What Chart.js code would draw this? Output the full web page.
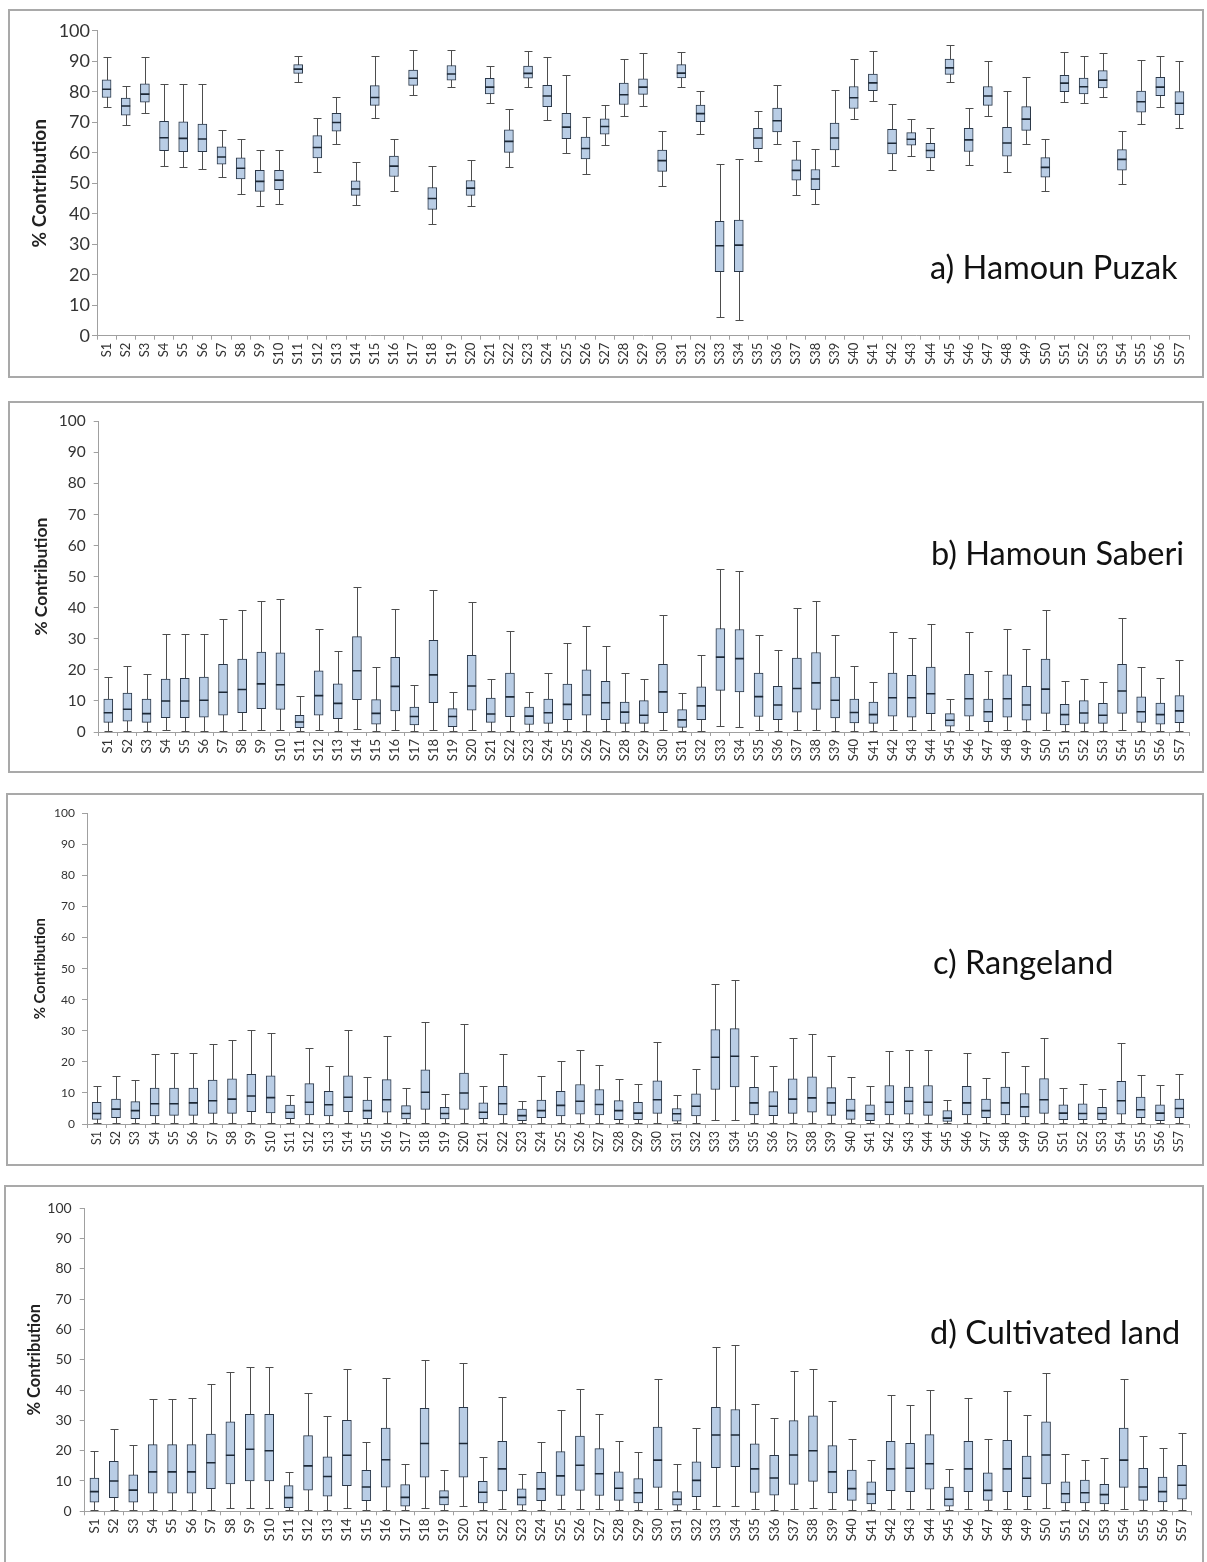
<!DOCTYPE html>
<html>
<head>
<meta charset="utf-8">
<script src="https://cdn.jsdelivr.net/npm/chart.js@4.4.1/dist/chart.umd.min.js"></script>
<style>
  body { margin: 0; width: 1207px; height: 1562px; overflow: hidden; background: #fff; font-family: Lato, "Open Sans", sans-serif; }
  .frame { position: absolute; border: 2px solid #a9a9a9; box-sizing: border-box; pointer-events: none; }
  .plot { position: absolute; }
  .tag { position: absolute; font-family: Lato, sans-serif; font-size: 32.5px; line-height: 1; color: #111; white-space: nowrap; }
</style>
</head>
<body>
<div class="plot" id="wa"><canvas id="ca"></canvas></div>
<div class="plot" id="wb"><canvas id="cb"></canvas></div>
<div class="plot" id="wc"><canvas id="cc"></canvas></div>
<div class="plot" id="wd"><canvas id="cd"></canvas></div>
<div class="frame" id="fa"></div>
<div class="frame" id="fb"></div>
<div class="frame" id="fc"></div>
<div class="frame" id="fd"></div>
<div class="tag" style="left:930px;top:251px">a) Hamoun Puzak</div>
<div class="tag" style="left:931px;top:537px">b) Hamoun Saberi</div>
<div class="tag" style="left:933px;top:946px">c) Rangeland</div>
<div class="tag" style="left:930px;top:1316px">d) Cultivated land</div>

<script>
// sites S1..S57
const sites = Array.from({length: 57}, (_, i) => 'S' + (i + 1));
const yMin = 0, yMax = 100, yStep = 10;

// a) Hamoun Puzak
const puzakMin = [74.9,69.1,73.0,55.6,55.3,54.6,52.0,46.6,42.4,43.3,83.3,53.7,62.8,42.9,71.3,47.5,79.0,36.6,81.5,42.6,76.4,55.3,81.7,70.8,59.9,52.9,62.5,72.1,75.4,49.0,81.7,66.2,6.0,5.0,57.2,62.8,46.2,43.3,55.7,70.9,76.9,54.3,58.9,54.4,83.3,56.1,72.0,53.7,63.0,47.5,76.6,76.3,78.3,49.9,69.5,75.1,68.0];
const puzakQ1 = [78.1,72.3,76.6,60.7,60.3,60.3,56.2,51.4,47.3,47.9,86.0,58.3,67.1,46.0,75.5,52.2,82.1,41.4,83.8,46.0,79.3,60.1,84.4,75.1,64.6,58.0,66.1,75.8,79.1,53.9,84.5,70.2,21.0,21.0,61.3,66.8,51.0,47.9,60.9,74.5,80.3,59.6,62.5,58.3,85.7,60.4,75.5,58.9,67.3,52.0,80.0,79.3,81.2,54.3,73.3,78.7,72.5];
const puzakMed = [80.8,75.3,79.2,64.9,64.7,64.5,58.6,54.9,50.6,51.0,87.4,61.7,69.9,48.1,78.1,55.6,84.4,45.0,85.8,48.4,81.5,63.7,86.0,78.6,68.4,61.4,68.6,79.0,81.5,57.4,86.1,72.8,29.5,29.7,64.8,70.5,54.2,51.4,64.8,78.0,82.9,63.1,64.4,60.7,87.8,64.2,78.6,63.2,71.0,55.2,82.8,81.6,83.8,57.8,76.7,81.5,76.2];
const puzakQ3 = [83.9,77.9,82.6,70.3,70.1,69.4,61.9,58.3,54.2,54.2,88.9,65.6,72.9,50.8,82.0,58.9,87.1,48.6,88.6,50.9,84.4,67.5,88.4,82.1,72.9,65.1,71.1,82.8,84.2,60.9,88.9,75.6,37.5,37.9,68.0,74.6,57.7,54.5,69.7,81.7,85.8,67.7,66.6,63.1,90.7,68.0,81.7,68.3,75.1,58.4,85.4,84.5,86.9,61.0,80.2,84.7,80.0];
const puzakMax = [91.4,81.9,91.4,82.4,82.4,82.6,67.3,64.6,60.8,60.8,91.7,71.3,78.3,56.8,91.7,64.6,93.6,55.5,93.8,57.7,88.3,74.3,93.4,91.4,85.4,71.6,75.7,90.8,92.7,67.2,93.1,80.3,56.3,58.0,73.7,82.1,63.7,61.2,80.7,90.7,93.2,76.1,70.9,68.1,95.3,74.6,90.1,80.1,84.8,64.4,92.9,91.8,92.7,67.0,90.3,91.8,90.1];

// b) Hamoun Saberi
const saberiMin = [0.4,0.4,0.4,0.6,0.4,0.4,0.4,0.6,0.6,0.6,0.2,0.6,0.4,1.1,0.4,0.6,0.4,0.8,0.4,0.5,0.4,0.4,0.4,0.4,0.4,0.4,0.4,0.4,0.4,0.6,0.2,0.4,1.9,1.6,0.6,0.4,0.6,0.6,0.4,0.4,0.4,0.6,0.6,0.6,0.4,0.6,0.4,0.6,0.4,0.6,0.4,0.4,0.4,0.6,0.4,0.4,0.4];
const saberiQ1 = [3.1,3.5,3.1,4.6,4.6,4.8,5.4,6.2,7.5,7.3,1.4,5.4,4.3,10.4,2.5,6.8,2.3,9.4,1.7,7.0,3.1,4.9,2.4,2.8,4.0,5.4,4.0,2.8,2.8,6.2,1.5,4.0,13.4,12.9,5.0,4.0,6.4,7.3,4.5,2.9,2.8,5.1,4.8,5.9,1.9,5.1,3.3,4.8,3.8,6.0,2.3,2.8,2.8,6.0,3.1,2.5,3.0];
const saberiMed = [6.2,7.3,5.9,10.0,10.0,10.2,12.8,13.7,15.5,15.2,3.2,11.7,9.2,19.7,6.0,14.7,5.0,18.4,5.0,14.8,5.8,11.3,5.1,6.2,8.9,11.9,9.4,6.4,5.4,12.9,3.9,8.4,24.1,23.6,11.4,8.7,14.0,15.8,10.2,6.3,5.6,11.0,11.0,12.3,3.8,10.7,6.5,10.7,8.7,13.8,5.6,6.1,5.4,13.2,6.5,5.6,6.8];
const saberiQ3 = [10.6,12.5,10.6,17.0,17.3,17.7,21.8,23.5,25.7,25.5,5.4,19.7,15.5,30.7,10.4,24.0,8.0,29.5,7.5,24.7,10.9,19.0,8.0,10.6,15.4,20.0,16.3,9.6,10.1,21.8,7.2,14.5,33.3,33.0,19.0,14.7,23.8,25.6,17.7,10.6,9.6,19.0,18.2,20.9,5.9,18.6,10.6,18.4,14.7,23.5,8.9,10.1,9.2,21.8,11.3,9.3,11.7];
const saberiMax = [17.7,21.1,18.6,31.7,31.7,31.7,36.3,39.4,42.2,42.9,11.7,33.3,26.2,46.6,21.0,39.7,15.0,45.8,12.8,41.8,17.0,32.6,13.0,19.0,28.7,34.2,27.8,19.0,17.0,37.8,12.5,24.9,52.4,51.7,31.2,26.4,40.0,42.1,31.2,21.3,16.1,32.3,30.1,34.6,10.6,32.3,19.6,33.3,26.7,39.2,16.3,17.0,16.1,36.8,20.9,17.4,23.3];

// c) Rangeland
const rangeMin = [0.2,0.2,0.2,0.2,0.2,0.2,0.2,0.2,0.3,0.3,0.2,0.2,0.3,0.3,0.2,0.3,0.2,0.4,0.2,0.4,0.2,0.2,0.2,0.2,0.2,0.2,0.2,0.2,0.2,0.2,0.2,0.2,1.2,1.2,0.3,0.2,0.3,0.3,0.2,0.2,0.2,0.2,0.2,0.2,0.2,0.2,0.2,0.2,0.2,0.2,0.2,0.2,0.2,0.2,0.2,0.2,0.2];
const rangeQ1 = [1.5,2.0,1.7,2.6,2.8,2.8,3.4,3.4,4.0,3.6,1.7,2.9,2.6,4.0,1.7,3.8,1.6,4.7,1.6,4.7,1.7,2.9,1.1,2.0,2.6,3.2,2.9,1.4,1.4,3.4,0.9,2.6,11.1,11.9,2.9,2.7,3.4,3.8,2.8,1.5,1.1,2.9,3.2,2.8,0.8,2.9,2.0,2.9,2.3,3.4,1.4,1.4,1.4,3.2,2.0,1.1,2.0];
const rangeMed = [3.4,4.8,4.3,6.5,6.5,6.8,7.5,8.0,9.0,8.5,3.8,7.0,6.2,8.6,4.3,7.8,3.4,10.2,3.4,10.0,3.8,6.5,2.7,4.3,6.0,7.3,6.3,4.3,3.5,7.8,3.3,5.7,21.5,21.8,6.8,5.7,8.0,8.4,6.8,4.3,3.3,7.0,7.3,7.0,1.9,6.8,4.3,6.8,5.5,7.8,3.5,3.4,3.4,7.5,4.6,3.5,5.0];
const rangeQ3 = [7.0,8.0,7.2,11.6,11.6,11.6,14.1,14.5,16.0,15.5,6.1,13.0,10.5,15.5,7.7,14.3,5.9,17.4,5.4,16.4,6.8,12.1,4.8,7.7,10.5,12.7,11.1,7.5,7.0,13.9,5.0,9.7,30.4,30.7,11.8,10.4,14.5,15.2,11.7,8.0,6.2,12.4,11.9,12.4,4.3,12.1,8.0,11.9,9.8,14.6,6.2,6.5,5.4,13.7,8.7,6.2,8.0];
const rangeMax = [12.2,15.5,14.1,22.5,22.7,23.0,25.6,27.1,30.2,29.3,9.2,24.5,18.7,30.4,15.2,28.3,11.7,32.9,9.5,32.2,12.1,22.5,7.5,15.6,20.4,23.9,18.9,14.4,12.8,26.5,9.2,17.7,45.1,46.4,22.0,18.7,27.8,29.0,22.0,15.2,12.3,23.6,23.9,23.9,7.7,22.7,14.9,23.3,18.7,27.7,11.6,12.8,11.2,26.0,15.9,12.4,16.2];

// d) Cultivated land
const cultMin = [0.3,0.3,0.3,0.5,0.5,0.5,0.5,1.0,1.0,1.2,0.3,0.5,0.5,1.0,0.3,0.5,0.3,1.1,0.3,1.7,0.3,0.8,0.3,0.3,0.6,0.8,0.6,0.3,0.3,0.8,0.3,0.6,1.8,1.8,0.8,0.3,0.8,1.2,0.8,0.3,0.3,0.6,0.8,0.8,0.3,0.6,0.3,0.8,0.6,1.2,0.3,0.3,0.3,0.8,0.3,0.3,0.3];
const cultQ1 = [3.0,4.5,3.0,6.0,6.0,6.0,7.5,9.0,10.0,10.0,1.2,7.0,5.0,8.5,3.5,8.0,1.7,11.3,2.1,11.3,2.8,6.7,2.0,3.5,5.2,6.9,5.2,3.6,2.8,7.9,2.0,4.8,14.4,14.7,6.2,5.3,8.9,9.9,6.1,3.6,2.4,6.8,6.5,7.3,1.7,6.5,3.6,6.5,4.8,9.0,2.8,2.8,2.4,7.9,3.6,3.1,4.0];
const cultMed = [6.5,10.0,7.0,13.0,13.0,13.0,16.0,18.5,20.5,20.0,4.5,15.0,11.5,18.5,8.0,17.0,4.6,22.4,4.6,22.4,6.3,14.0,4.6,7.4,11.7,15.2,12.4,7.6,6.1,16.9,4.0,10.2,25.2,25.2,14.0,11.0,18.6,20.0,13.0,7.5,5.7,14.0,14.2,15.7,4.0,14.0,6.9,14.0,10.9,18.6,5.8,6.1,5.5,16.9,8.0,6.5,8.6];
const cultQ3 = [11.0,16.5,12.0,22.0,22.0,22.0,25.5,29.5,32.0,32.0,8.5,25.0,18.0,30.0,13.5,27.5,8.8,34.0,6.8,34.3,9.9,23.1,7.4,12.9,19.7,24.8,20.7,13.0,10.8,27.8,6.5,16.3,34.3,33.6,22.3,18.5,29.9,31.5,21.7,13.6,9.7,23.1,22.4,25.3,8.0,23.1,12.7,23.4,18.2,29.5,9.7,10.3,8.9,27.5,14.2,11.3,15.2];
const cultMax = [20.0,27.0,22.0,37.0,37.0,37.5,42.0,46.0,47.5,47.5,13.0,39.0,31.5,47.0,23.0,44.0,15.5,49.8,13.5,49.0,17.9,37.8,12.4,22.8,33.3,40.2,32.0,23.1,19.6,43.5,15.7,27.5,54.2,55.0,35.5,30.9,46.3,47.1,36.4,24.0,16.8,38.3,35.1,39.9,13.9,37.4,23.8,39.6,31.8,45.7,18.8,16.8,17.6,43.5,24.8,21.0,26.0];

const axisColor = '#a0a0a0';
const textColor = '#333';

function place(el, box) {
  el.style.left = box.left + 'px';
  el.style.top = box.top + 'px';
  el.style.width = box.w + 'px';
  el.style.height = box.h + 'px';
}

function makePanel(key, box, area, f, s) {
  place(document.getElementById('w' + key), box);
  place(document.getElementById('f' + key), box);
  const yW = area.left - box.left;
  const xH = box.h - (area.bottom - box.top);
  const padTop = area.top - box.top;
  const padRight = box.w - (area.right - box.left);

  // whiskers under the box, median on top
  const boxPlot = {
    id: 'boxPlot' + key,
    beforeDatasetsDraw(chart) {
      const {ctx, scales: {x, y}} = chart;
      ctx.save();
      ctx.strokeStyle = '#4d4d4d';
      ctx.lineWidth = 1;
      ctx.beginPath();
      s.min.forEach((lo, i) => {
        const cx = Math.round(x.getPixelForValue(i)) + 0.5;
        const y0 = Math.round(y.getPixelForValue(lo)) + 0.5;
        const y1 = Math.round(y.getPixelForValue(s.max[i])) + 0.5;
        ctx.moveTo(cx, y0); ctx.lineTo(cx, y1);
        ctx.moveTo(cx - 4, y0); ctx.lineTo(cx + 4, y0);
        ctx.moveTo(cx - 4, y1); ctx.lineTo(cx + 4, y1);
      });
      ctx.stroke();
      ctx.restore();
    },
    afterDatasetsDraw(chart) {
      const {ctx, scales: {x, y}} = chart;
      ctx.save();
      ctx.strokeStyle = '#1c2836';
      ctx.lineWidth = 1.6;
      ctx.beginPath();
      s.med.forEach((m, i) => {
        const cx = x.getPixelForValue(i);
        const ym = y.getPixelForValue(m);
        ctx.moveTo(cx - 4.5, ym); ctx.lineTo(cx + 4.5, ym);
      });
      ctx.stroke();
      ctx.restore();
    }
  };

  new Chart(document.getElementById('c' + key), {
    type: 'bar',
    data: {
      labels: sites,
      datasets: [{
        data: s.q1.map((lo, i) => [lo, s.q3[i]]),
        backgroundColor: '#b9cde5',
        borderColor: '#2a3748',
        borderWidth: 1,
        borderSkipped: false,
        barThickness: 9
      }]
    },
    options: {
      responsive: true,
      maintainAspectRatio: false,
      animation: false,
      layout: { padding: { top: padTop, right: padRight, left: 0, bottom: 0 } },
      plugins: { legend: { display: false }, tooltip: { enabled: false } },
      scales: {
        x: {
          afterFit: sc => { sc.height = xH; },
          grid: { drawOnChartArea: false, drawTicks: true, tickLength: 4, color: axisColor, offset: true },
          border: { color: axisColor },
          ticks: {
            autoSkip: false, minRotation: 90, maxRotation: 90, padding: 3,
            color: textColor, font: { family: 'Lato', size: f.xt }
          }
        },
        y: {
          min: yMin, max: yMax,
          afterFit: sc => { sc.width = yW; },
          grid: { drawOnChartArea: false, drawTicks: true, tickLength: 5, color: axisColor },
          border: { color: axisColor },
          ticks: { stepSize: yStep, padding: f.tp, color: textColor, font: { family: 'Lato', size: f.yt } },
          title: {
            display: true, text: '% Contribution', color: '#222',
            font: { family: 'Lato', size: f.tt, weight: 'bold', lineHeight: 1.2 },
            padding: { top: f.tc - box.left - 0.6 * f.tt, bottom: 0 }
          }
        }
      }
    },
    plugins: [boxPlot]
  });
}

makePanel('a', {left: 8, top: 9, w: 1196, h: 369}, {left: 97, top: 30.7, right: 1189, bottom: 335.7},
  {xt: 13, yt: 18, tt: 19, tp: 2, tc: 40},
  {min: puzakMin, q1: puzakQ1, med: puzakMed, q3: puzakQ3, max: puzakMax});
makePanel('b', {left: 8, top: 401, w: 1196, h: 372}, {left: 98.7, top: 421.3, right: 1189, bottom: 732},
  {xt: 13, yt: 15.5, tt: 17.5, tp: 8, tc: 41},
  {min: saberiMin, q1: saberiQ1, med: saberiMed, q3: saberiQ3, max: saberiMax});
makePanel('c', {left: 6, top: 793, w: 1198, h: 373}, {left: 87, top: 813.3, right: 1189, bottom: 1124},
  {xt: 12.5, yt: 12, tt: 15, tp: 7, tc: 40},
  {min: rangeMin, q1: rangeQ1, med: rangeMed, q3: rangeQ3, max: rangeMax});
makePanel('d', {left: 4, top: 1185, w: 1200, h: 380}, {left: 84.7, top: 1208.3, right: 1191.7, bottom: 1511.3},
  {xt: 13.5, yt: 14, tt: 16.5, tp: 8, tc: 35},
  {min: cultMin, q1: cultQ1, med: cultMed, q3: cultQ3, max: cultMax});
</script>
</body>
</html>
